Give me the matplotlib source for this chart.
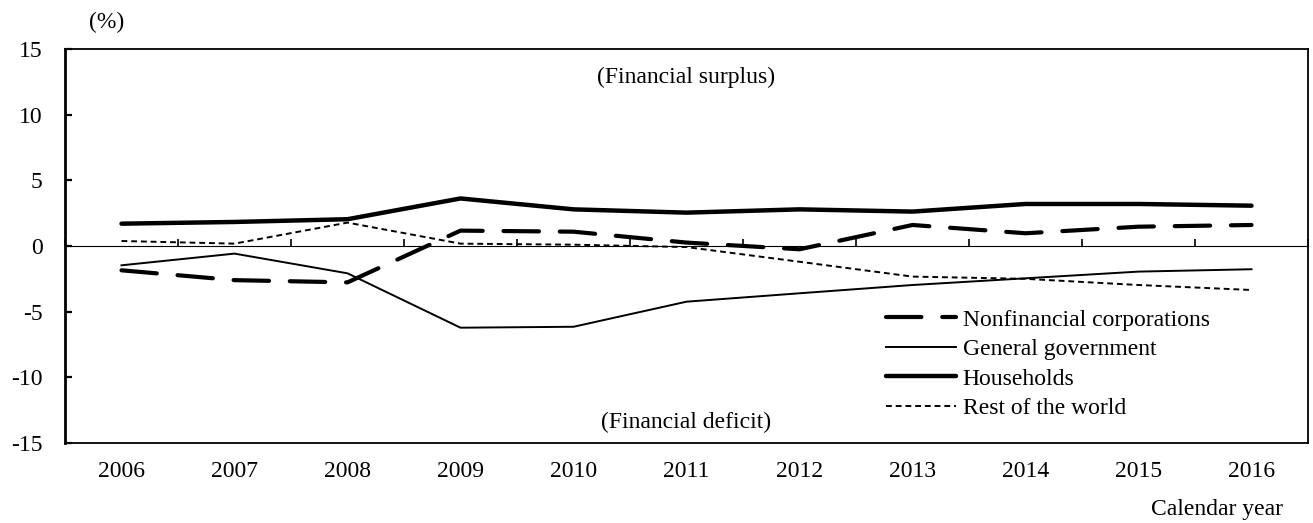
import matplotlib
matplotlib.use("Agg")
import matplotlib.pyplot as plt
import numpy as np

plt.rcParams['font.family'] = ['Liberation Serif', 'DejaVu Serif']
plt.rcParams['font.size'] = 17
plt.rcParams['axes.unicode_minus'] = False

# financial surplus / deficit by sector, % of nominal GDP
years = ['2006', '2007', '2008', '2009', '2010', '2011',
         '2012', '2013', '2014', '2015', '2016']
nonfinancial = [-1.85, -2.6, -2.77, 1.17, 1.09, 0.26, -0.25, 1.6, 0.97, 1.47, 1.6]
government = [-1.47, -0.58, -2.08, -6.22, -6.15, -4.24, -3.6, -2.97, -2.46, -1.95, -1.77]
households = [1.7, 1.83, 2.04, 3.62, 2.79, 2.54, 2.79, 2.62, 3.2, 3.2, 3.07]
rest_of_world = [0.38, 0.18, 1.78, 0.18, 0.1, -0.08, -1.2, -2.33, -2.5, -2.97, -3.35]

x = np.arange(len(years))

fig = plt.figure(figsize=(13.13, 5.23), dpi=100)
ax = fig.add_axes([65 / 1313, 1 - 443 / 523, 1243 / 1313, 394 / 523])

ax.plot(x, nonfinancial, color='black', lw=3.0, dashes=(8.5, 5.0),
        dash_capstyle='round', label='Nonfinancial corporations')
ax.plot(x, government, color='black', lw=1.4, label='General government')
ax.plot(x, households, color='black', lw=3.2, solid_capstyle='round',
        label='Households')
ax.plot(x, rest_of_world, color='black', lw=1.4, dashes=(3, 2),
        label='Rest of the world')

ax.set_xlim(-0.5, len(years) - 0.5)
ax.set_ylim(-15, 15)
ax.set_yticks(np.arange(-15, 16, 5))
ax.set_xticks(x)
ax.set_xticklabels(years)
ax.tick_params(axis='x', length=0, pad=13)
ax.tick_params(axis='y', direction='in', length=5, width=1.6, pad=16)

for side in ['top', 'bottom', 'right']:
    ax.spines[side].set_linewidth(1.3)
ax.spines['left'].set_linewidth(2.0)

# zero line with category boundary ticks pointing up
zero = ax.secondary_xaxis(0.5)
zero.spines['bottom'].set_linewidth(1.4)
zero.set_xticks(np.arange(len(years) + 1) - 0.5)
zero.tick_params(axis='x', direction='out', length=5, width=1.2,
                 labelbottom=False, labeltop=False)

ax.text(5, 12.8, '(Financial surplus)', ha='center', va='center')
ax.text(5, -13.4, '(Financial deficit)', ha='center', va='center')
fig.text(107 / 1313, 1 - 22 / 523, '(%)', ha='center', va='center')
fig.text(1283 / 1313, 1 - 509 / 523, 'Calendar year', ha='right', va='center')

ax.legend(loc='upper left', bbox_to_anchor=(886 / 1313, 1 - 309 / 523),
          bbox_transform=fig.transFigure, frameon=False, borderpad=0,
          handlelength=2.95, handletextpad=0.3, labelspacing=0.34,
          borderaxespad=0)

fig.savefig('out.png', dpi=100)
